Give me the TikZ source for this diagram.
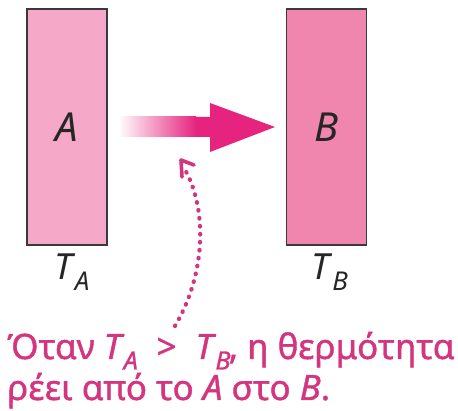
\documentclass[tikz,border=0pt]{standalone}
\usepackage{fontspec}
\setmainfont{Noto Sans}
\newfontfamily\capfont{Noto Sans}[FakeBold=1.2]
\usetikzlibrary{arrows.meta}
\definecolor{pinkA}{HTML}{F5A8C7}
\definecolor{pinkB}{HTML}{F085AE}
\definecolor{arrowpink}{HTML}{E6247F}
\definecolor{txtpink}{HTML}{D4357F}
\definecolor{edge}{HTML}{3A3A3A}
\newcommand{\Tsub}[1]{\textit{T}\kern-0.02em\raisebox{-0.3em}{\fontsize{0.72em}{0.75em}\selectfont\textit{#1}}}
\tikzset{
  box/.style={draw=edge, line width=1.2pt, minimum width=80pt, minimum height=236pt, inner sep=0pt, font=\fontsize{40}{44}\selectfont\itshape, text=black!85},
  tlabel/.style={font=\fontsize{36}{40}\selectfont, text=black!85, inner sep=0pt},
  caption/.style={anchor=base west, inner sep=0pt, text=txtpink, font=\capfont\fontsize{35}{38}\selectfont},
  dotline/.style={draw=txtpink, line width=4.2pt, line cap=round, dash pattern=on 0.6pt off 7.4pt}
}
\begin{document}
\begin{tikzpicture}[x=1pt,y=-1pt]
\useasboundingbox (0,0) rectangle (458,411);
\node[box, fill=pinkA] (A) at (67,127) {A};
\node[box, fill=pinkB] (B) at (326.5,127) {B};
\node[tlabel, anchor=base] (TA) at (72,280) {\Tsub{A}};
\node[tlabel, anchor=base] (TB) at (330,280) {\Tsub{B}};
% heat arrow
\shade[left color=white, right color=arrowpink] (118,117) rectangle (196,137);
\fill[arrowpink] (195,117) -- (210,117) -- (210,103) -- (275,127) -- (210,152) -- (210,137) -- (195,137) -- cycle;
\coordinate (tip) at (275,127);
% captions
\node[caption] (c1) at (7,359) {Όταν \Tsub{A} \;>\; \Tsub{B}\kern-0.05em, η θερμότητα};
\node[caption] (c2) at (7,400) {ρέει από το \textit{A} στο \textit{B}.};
% dotted arrow
\coordinate (d0) at (175,326);
\coordinate (d1) at (184,168);
\draw[dotline] (d0) .. controls (208,270) and (206,205) .. (d1);
\draw[draw=txtpink, line width=3.6pt, line cap=round, line join=round] (182,177) -- (181,160) -- (194,165);
\end{tikzpicture}
\end{document}
